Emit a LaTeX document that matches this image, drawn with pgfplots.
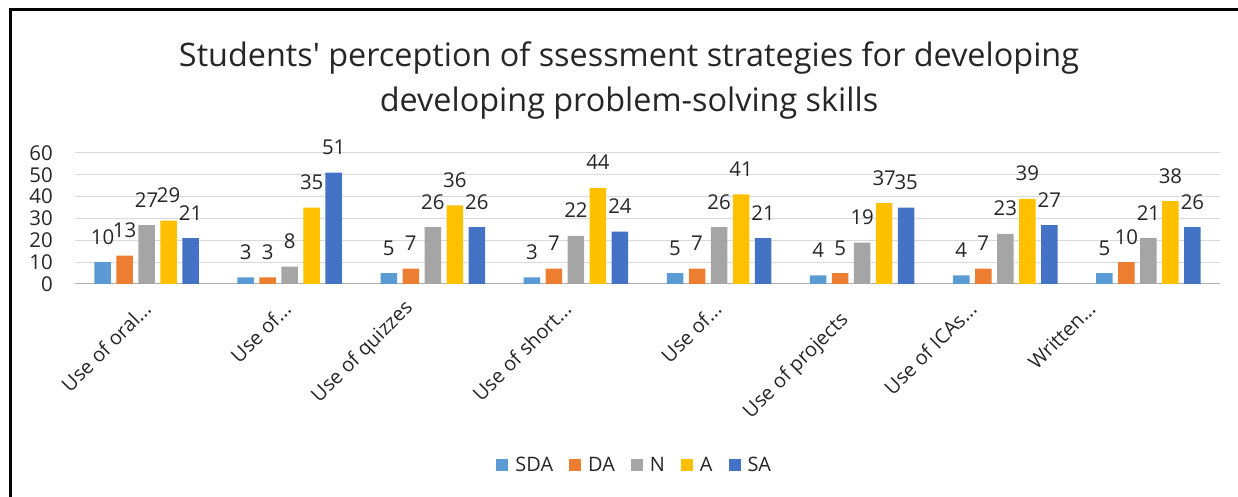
\documentclass[border=0pt]{standalone}
\usepackage{pgfplots}
\pgfplotsset{compat=1.18}
\usepackage{fontspec}
\setmainfont{Open Sans}
\definecolor{cSDA}{HTML}{5B9BD5}
\definecolor{cDA}{HTML}{ED7D31}
\definecolor{cN}{HTML}{A5A5A5}
\definecolor{cA}{HTML}{FFC000}
\definecolor{cSA}{HTML}{4472C4}
\definecolor{gridc}{HTML}{D9D9D9}
\definecolor{txt}{HTML}{262626}
\begin{document}
\begin{tikzpicture}[x=1bp,y=1bp]
\path[use as bounding box] (0,0) rectangle (1238,497);
\draw[line width=3bp] (10.5,0) -- (10.5,487.5) -- (1238,487.5);
\node[font=\fontsize{32.5}{38}\selectfont, anchor=base, text=txt] at (629,430) {Students\textquotesingle\ perception of ssessment strategies for developing};
\node[font=\fontsize{32.5}{38}\selectfont, anchor=base, text=txt] at (629,385) {developing problem-solving skills};
\begin{axis}[
  at={(75bp,213bp)}, anchor=south west,
  scale only axis, width=1145bp, height=131bp,
  xmin=-0.5, xmax=7.5, ymin=0, ymax=60,
  ybar=5.5bp, bar width=16.5bp,
  axis x line*=bottom, axis y line*=left,
  x axis line style={draw=gridc!80!black, line width=1bp},
  y axis line style={draw=none},
  ymajorgrids, grid style={draw=gridc, line width=1bp},
  major tick length=0pt,
  ytick={0,10,...,60},
  xtick={0,...,7}, xticklabels={},
  /pgf/number format/assume math mode=true,
  yticklabel style={font=\fontsize{20.5}{24}\selectfont, inner sep=0pt, xshift=-22bp, text=txt},
  nodes near coords,
  every node near coord/.append style={font=\fontsize{20.5}{24}\selectfont, anchor=base, inner sep=0pt, yshift=18bp, text=txt},
  legend style={at={(0.488,-1.382)}, anchor=center, draw=none, legend columns=5,
    font=\fontsize{20}{24}\selectfont, text=txt, nodes={inner sep=0pt},
    /tikz/every odd column/.append style={column sep=7bp},
    /tikz/every even column/.append style={column sep=16bp}},
  legend image code/.code={\fill[#1] (0bp,-6bp) rectangle (12bp,6bp);},
  clip=false,
]
\addplot[fill=cSDA, draw=none] coordinates {(0,10) (1,3) (2,5) (3,3) (4,5) (5,4) (6,4) (7,5)};
\addplot[fill=cDA, draw=none] coordinates {(0,13) (1,3) (2,7) (3,7) (4,7) (5,5) (6,7) (7,10)};
\addplot[fill=cN, draw=none] coordinates {(0,27) (1,8) (2,26) (3,22) (4,26) (5,19) (6,23) (7,21)};
\addplot[fill=cA, draw=none] coordinates {(0,29) (1,35) (2,36) (3,44) (4,41) (5,37) (6,39) (7,38)};
\addplot[fill=cSA, draw=none] coordinates {(0,21) (1,51) (2,26) (3,24) (4,21) (5,35) (6,27) (7,26)};
\legend{SDA, DA, N, A, SA}
\foreach \i/\dx/\dy/\lab in {0/-5/-16/{Use of oral...}, 1/-8/-16/{Use of...}, 2/-30/-14/{Use of quizzes}, 3/-14/-16/{Use of short...}, 4/-7/-16/{Use of...}, 5/-24/-26/{Use of projects}, 6/-38/-16/{Use of ICAs...}, 7/-62/-16/{Written...}} {
  \edef\temp{\noexpand\node[rotate=45, anchor=north east, inner sep=0pt, font=\noexpand\fontsize{20}{24}\noexpand\selectfont, text=txt] at ([xshift=\dx bp, yshift=\dy bp]axis cs:\i,0) {\lab};}
  \temp
}
\end{axis}
\end{tikzpicture}
\end{document}
